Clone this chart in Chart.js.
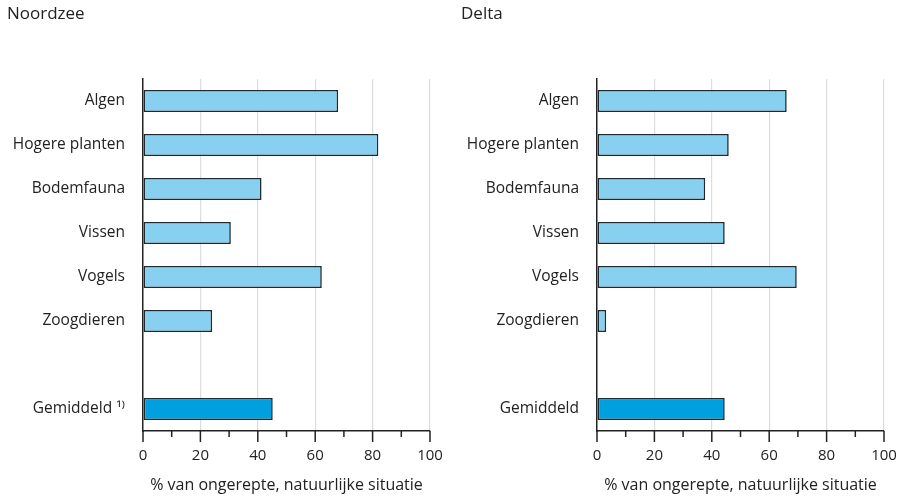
<!DOCTYPE html>
<html><head><meta charset="utf-8">
<script src="https://cdn.jsdelivr.net/npm/chart.js@4/dist/chart.umd.min.js"></script>
<style>
html,body{margin:0;padding:0;background:#fff;}
#wrap{display:flex;width:908px;height:499px;}
.c{width:454px;height:499px;position:relative;}
</style></head><body>
<div id="wrap"><div class="c"><canvas id="c1"></canvas></div><div class="c"><canvas id="c2"></canvas></div></div>
<script>
const categoriesNoordzee = ['Algen','Hogere planten','Bodemfauna','Vissen','Vogels','Zoogdieren','','Gemiddeld ¹⁾'];
const categoriesDelta = ['Algen','Hogere planten','Bodemfauna','Vissen','Vogels','Zoogdieren','','Gemiddeld'];
const valuesNoordzee = [68, 82, 41.3, 30.6, 62.3, 24.1, null, 45.2];
const valuesDelta = [66.1, 45.9, 37.7, 44.5, 69.6, 3.2, null, 44.5];
const xTickLabels = ['0','20','40','60','80','100'];
const titles = ['Noordzee','Delta'];
const axisTitle = '% van ongerepte, natuurlijke situatie';

const FONT = "'Open Sans', sans-serif";
const LIGHT = '#87d0f0', DARK = '#009fe0', EDGE = '#1f2a30';

function makeChart(id, cats, vals, title){
  const tickPlugin = {
    id:'extras',
    afterDraw(chart){
      const ctx = chart.ctx, xs = chart.scales.x, bottom = chart.chartArea.bottom;
      ctx.save();
      ctx.strokeStyle = '#222'; ctx.lineWidth = 1.5;
      xs.ticks.forEach(t=>{
        const px = xs.getPixelForValue(t.value);
        const len = (t.value % 20 === 0) ? 11 : 6;
        ctx.beginPath(); ctx.moveTo(px, bottom); ctx.lineTo(px, bottom+len); ctx.stroke();
      });
      ctx.fillStyle = '#222'; ctx.font = "17px " + FONT; ctx.textBaseline='middle'; ctx.textAlign='left';
      ctx.fillText(title, 7, 14);
      ctx.restore();
    }
  };
  return new Chart(document.getElementById(id), {
    type:'bar',
    data:{labels:cats, datasets:[{data:vals,
      backgroundColor:(c)=> c.index===cats.length-1 ? DARK : LIGHT,
      borderColor:EDGE, borderWidth:1.6, borderSkipped:false,
      barPercentage:0.5, categoryPercentage:1}]},
    options:{
      indexAxis:'y', responsive:true, maintainAspectRatio:false, animation:false,
      layout:{padding:{top:79,right:24,left:0,bottom:0}},
      plugins:{legend:{display:false}, tooltip:{enabled:false}, title:{display:false}},
      scales:{
        x:{min:0,max:100,
          afterFit(s){s.height=68;},
          grid:{drawTicks:true, tickLength:16, tickColor:'rgba(0,0,0,0)',
            color:(c)=> (c.tick && c.tick.value%20===0 && c.tick.value!==0) ? '#dddddd':'rgba(0,0,0,0)', lineWidth:1.2},
          border:{display:true,color:'#222',width:1.5},
          ticks:{stepSize:10, autoSkip:false, maxRotation:0, padding:0, color:'#222', font:{family:FONT,size:15},
            callback:(v)=> v%20===0 ? xTickLabels[v/20] : ''},
          title:{display:true,text:axisTitle,color:'#222',font:{family:FONT,size:16},padding:{top:0,bottom:4}}
        },
        y:{
          afterFit(s){s.width=143;},
          grid:{display:false, drawTicks:false},
          border:{display:true,color:'#222',width:1.5},
          ticks:{padding:18,color:'#222',font:{family:FONT,size:15.5},autoSkip:false}
        }
      }
    },
    plugins:[tickPlugin]
  });
}
makeChart('c1', categoriesNoordzee, valuesNoordzee, titles[0]);
makeChart('c2', categoriesDelta, valuesDelta, titles[1]);
</script></body></html>
